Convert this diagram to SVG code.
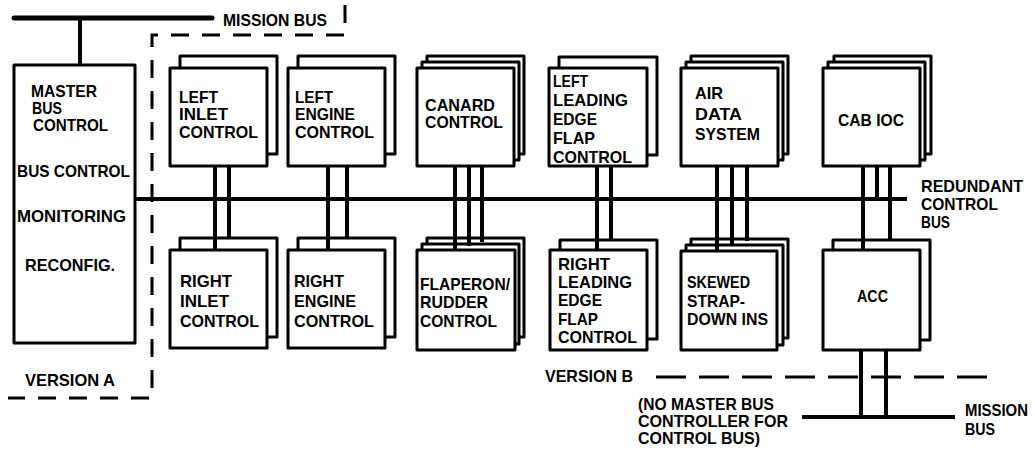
<svg xmlns="http://www.w3.org/2000/svg" width="1035" height="452" viewBox="0 0 1035 452">
<style>
.t{font-family:"Liberation Sans",Arial,Helvetica,sans-serif;font-weight:bold;font-size:17px;fill:#000}
.box{fill:#fff;stroke:#000;stroke-width:3;stroke-linejoin:round}
.wire{stroke:#000;stroke-width:4;fill:none}
.bus{stroke:#000;stroke-width:5;fill:none;stroke-linecap:round}
.dash{stroke:#000;stroke-width:3;fill:none}
</style>
<rect width="1035" height="452" fill="#fff"/>

<g id="boundaries">
<path class="dash" d="M345,5 V35 H152 V398 H8" stroke-dasharray="18 13"/>
<path class="dash" d="M656,377 H998" stroke-dasharray="30 13"/>
</g>

<g id="master">
<rect class="box" x="14" y="65" width="121" height="278"/>
<text class="t" x="31" y="97" textLength="66" lengthAdjust="spacingAndGlyphs">MASTER</text>
<text class="t" x="32" y="114" textLength="30" lengthAdjust="spacingAndGlyphs">BUS</text>
<text class="t" x="33" y="131" textLength="75" lengthAdjust="spacingAndGlyphs">CONTROL</text>
<text class="t" x="17" y="177" textLength="113" lengthAdjust="spacingAndGlyphs">BUS CONTROL</text>
<text class="t" x="17" y="222" textLength="109" lengthAdjust="spacingAndGlyphs">MONITORING</text>
<text class="t" x="25" y="271" textLength="90" lengthAdjust="spacingAndGlyphs">RECONFIG.</text>
</g>

<g id="left-inlet">
<rect class="box" x="180" y="56" width="97" height="98"/>
<rect class="box" x="170" y="68" width="97" height="98"/>
<text class="t" x="179" y="103" textLength="39" lengthAdjust="spacingAndGlyphs">LEFT</text>
<text class="t" x="179" y="120" textLength="49" lengthAdjust="spacingAndGlyphs">INLET</text>
<text class="t" x="179" y="138" textLength="79" lengthAdjust="spacingAndGlyphs">CONTROL</text>
</g>
<g id="left-engine">
<rect class="box" x="298" y="56" width="97" height="98"/>
<rect class="box" x="288" y="68" width="97" height="98"/>
<text class="t" x="295" y="103" textLength="38" lengthAdjust="spacingAndGlyphs">LEFT</text>
<text class="t" x="295" y="120" textLength="60" lengthAdjust="spacingAndGlyphs">ENGINE</text>
<text class="t" x="295" y="138" textLength="79" lengthAdjust="spacingAndGlyphs">CONTROL</text>
</g>
<g id="canard">
<rect class="box" x="427" y="56" width="97" height="98"/>
<rect class="box" x="422" y="62" width="97" height="98"/>
<rect class="box" x="417" y="68" width="97" height="98"/>
<text class="t" x="425" y="111" textLength="70" lengthAdjust="spacingAndGlyphs">CANARD</text>
<text class="t" x="425" y="128" textLength="78" lengthAdjust="spacingAndGlyphs">CONTROL</text>
</g>
<g id="left-lef">
<rect class="box" x="559" y="57" width="98" height="98"/>
<rect class="box" x="549" y="68" width="98" height="98"/>
<text class="t" x="553" y="87" textLength="35" lengthAdjust="spacingAndGlyphs">LEFT</text>
<text class="t" x="553" y="106" textLength="75" lengthAdjust="spacingAndGlyphs">LEADING</text>
<text class="t" x="553" y="125" textLength="44" lengthAdjust="spacingAndGlyphs">EDGE</text>
<text class="t" x="553" y="144" textLength="42" lengthAdjust="spacingAndGlyphs">FLAP</text>
<text class="t" x="553" y="163" textLength="79" lengthAdjust="spacingAndGlyphs">CONTROL</text>
</g>
<g id="air-data">
<rect class="box" x="691" y="56" width="97" height="98"/>
<rect class="box" x="686" y="62" width="97" height="98"/>
<rect class="box" x="681" y="68" width="97" height="98"/>
<text class="t" x="695" y="99" textLength="28" lengthAdjust="spacingAndGlyphs">AIR</text>
<text class="t" x="695" y="120" textLength="47" lengthAdjust="spacingAndGlyphs">DATA</text>
<text class="t" x="695" y="140" textLength="65" lengthAdjust="spacingAndGlyphs">SYSTEM</text>
</g>
<g id="cab-ioc">
<rect class="box" x="834" y="56" width="97" height="98"/>
<rect class="box" x="828" y="62" width="97" height="98"/>
<rect class="box" x="823" y="68" width="97" height="98"/>
<text class="t" x="838" y="126" textLength="66" lengthAdjust="spacingAndGlyphs">CAB IOC</text>
</g>

<g id="right-inlet">
<rect class="box" x="180" y="238" width="97" height="99"/>
<rect class="box" x="170" y="250" width="97" height="98"/>
<text class="t" x="180" y="287" textLength="52" lengthAdjust="spacingAndGlyphs">RIGHT</text>
<text class="t" x="180" y="307" textLength="49" lengthAdjust="spacingAndGlyphs">INLET</text>
<text class="t" x="180" y="327" textLength="79" lengthAdjust="spacingAndGlyphs">CONTROL</text>
</g>
<g id="right-engine">
<rect class="box" x="298" y="238" width="97" height="99"/>
<rect class="box" x="288" y="250" width="97" height="98"/>
<text class="t" x="294" y="287" textLength="50" lengthAdjust="spacingAndGlyphs">RIGHT</text>
<text class="t" x="294" y="307" textLength="62" lengthAdjust="spacingAndGlyphs">ENGINE</text>
<text class="t" x="294" y="327" textLength="80" lengthAdjust="spacingAndGlyphs">CONTROL</text>
</g>
<g id="flaperon">
<rect class="box" x="427" y="238" width="97" height="99"/>
<rect class="box" x="422" y="244" width="97" height="100"/>
<rect class="box" x="417" y="250" width="98" height="100"/>
<text class="t" x="420" y="290" textLength="90" lengthAdjust="spacingAndGlyphs">FLAPERON/</text>
<text class="t" x="420" y="308" textLength="68" lengthAdjust="spacingAndGlyphs">RUDDER</text>
<text class="t" x="420" y="327" textLength="77" lengthAdjust="spacingAndGlyphs">CONTROL</text>
</g>
<g id="right-lef">
<rect class="box" x="560" y="240" width="97" height="99"/>
<rect class="box" x="550" y="250" width="97" height="100"/>
<text class="t" x="558" y="270" textLength="52" lengthAdjust="spacingAndGlyphs">RIGHT</text>
<text class="t" x="558" y="288" textLength="74" lengthAdjust="spacingAndGlyphs">LEADING</text>
<text class="t" x="558" y="306" textLength="44" lengthAdjust="spacingAndGlyphs">EDGE</text>
<text class="t" x="558" y="325" textLength="40" lengthAdjust="spacingAndGlyphs">FLAP</text>
<text class="t" x="558" y="343" textLength="79" lengthAdjust="spacingAndGlyphs">CONTROL</text>
</g>
<g id="skewed">
<rect class="box" x="691" y="239" width="97" height="99"/>
<rect class="box" x="686" y="245" width="97" height="100"/>
<rect class="box" x="681" y="251" width="96" height="99"/>
<text class="t" x="687" y="288" textLength="63" lengthAdjust="spacingAndGlyphs">SKEWED</text>
<text class="t" x="687" y="307" textLength="58" lengthAdjust="spacingAndGlyphs">STRAP-</text>
<text class="t" x="687" y="325" textLength="81" lengthAdjust="spacingAndGlyphs">DOWN INS</text>
</g>
<g id="acc">
<rect class="box" x="833" y="240" width="97" height="100"/>
<rect class="box" x="823" y="250" width="97" height="100"/>
<text class="t" x="857" y="302" textLength="31" lengthAdjust="spacingAndGlyphs">ACC</text>
</g>

<g id="labels">
<text class="t" x="223" y="26" textLength="104" lengthAdjust="spacingAndGlyphs">MISSION BUS</text>
<text class="t" x="25" y="386" textLength="90" lengthAdjust="spacingAndGlyphs">VERSION A</text>
<text class="t" x="545" y="382" textLength="88" lengthAdjust="spacingAndGlyphs">VERSION B</text>
<text class="t" x="921" y="192" textLength="102" lengthAdjust="spacingAndGlyphs">REDUNDANT</text>
<text class="t" x="921" y="210" textLength="77" lengthAdjust="spacingAndGlyphs">CONTROL</text>
<text class="t" x="921" y="228" textLength="29" lengthAdjust="spacingAndGlyphs">BUS</text>
<text class="t" x="638" y="410" textLength="136" lengthAdjust="spacingAndGlyphs">(NO MASTER BUS</text>
<text class="t" x="638" y="427" textLength="150" lengthAdjust="spacingAndGlyphs">CONTROLLER FOR</text>
<text class="t" x="638" y="444" textLength="122" lengthAdjust="spacingAndGlyphs">CONTROL BUS)</text>
<text class="t" x="965" y="416" textLength="63" lengthAdjust="spacingAndGlyphs">MISSION</text>
<text class="t" x="965" y="435" textLength="30" lengthAdjust="spacingAndGlyphs">BUS</text>
</g>

<g id="connectors">
<path class="bus" d="M14,18 H212"/>
<path class="wire" d="M80,18 V65"/>
<path class="wire" d="M135,199 H907"/>
<path class="wire" d="M215,166 V250 M229,166 V238"/>
<path class="wire" d="M328,166 V250 M347,166 V238"/>
<path class="wire" d="M455,166 V250 M469,166 V246 M482,166 V242"/>
<path class="wire" d="M597,166 V250 M611,166 V240"/>
<path class="wire" d="M717,166 V251 M732,166 V246 M747,166 V241"/>
<path class="wire" d="M863,166 V250 M877,166 V199 M890,166 V240"/>
<path class="wire" d="M861,350 V417 M886,350 V417"/>
<path class="wire" d="M802,417 H955"/>
</g>
</svg>
